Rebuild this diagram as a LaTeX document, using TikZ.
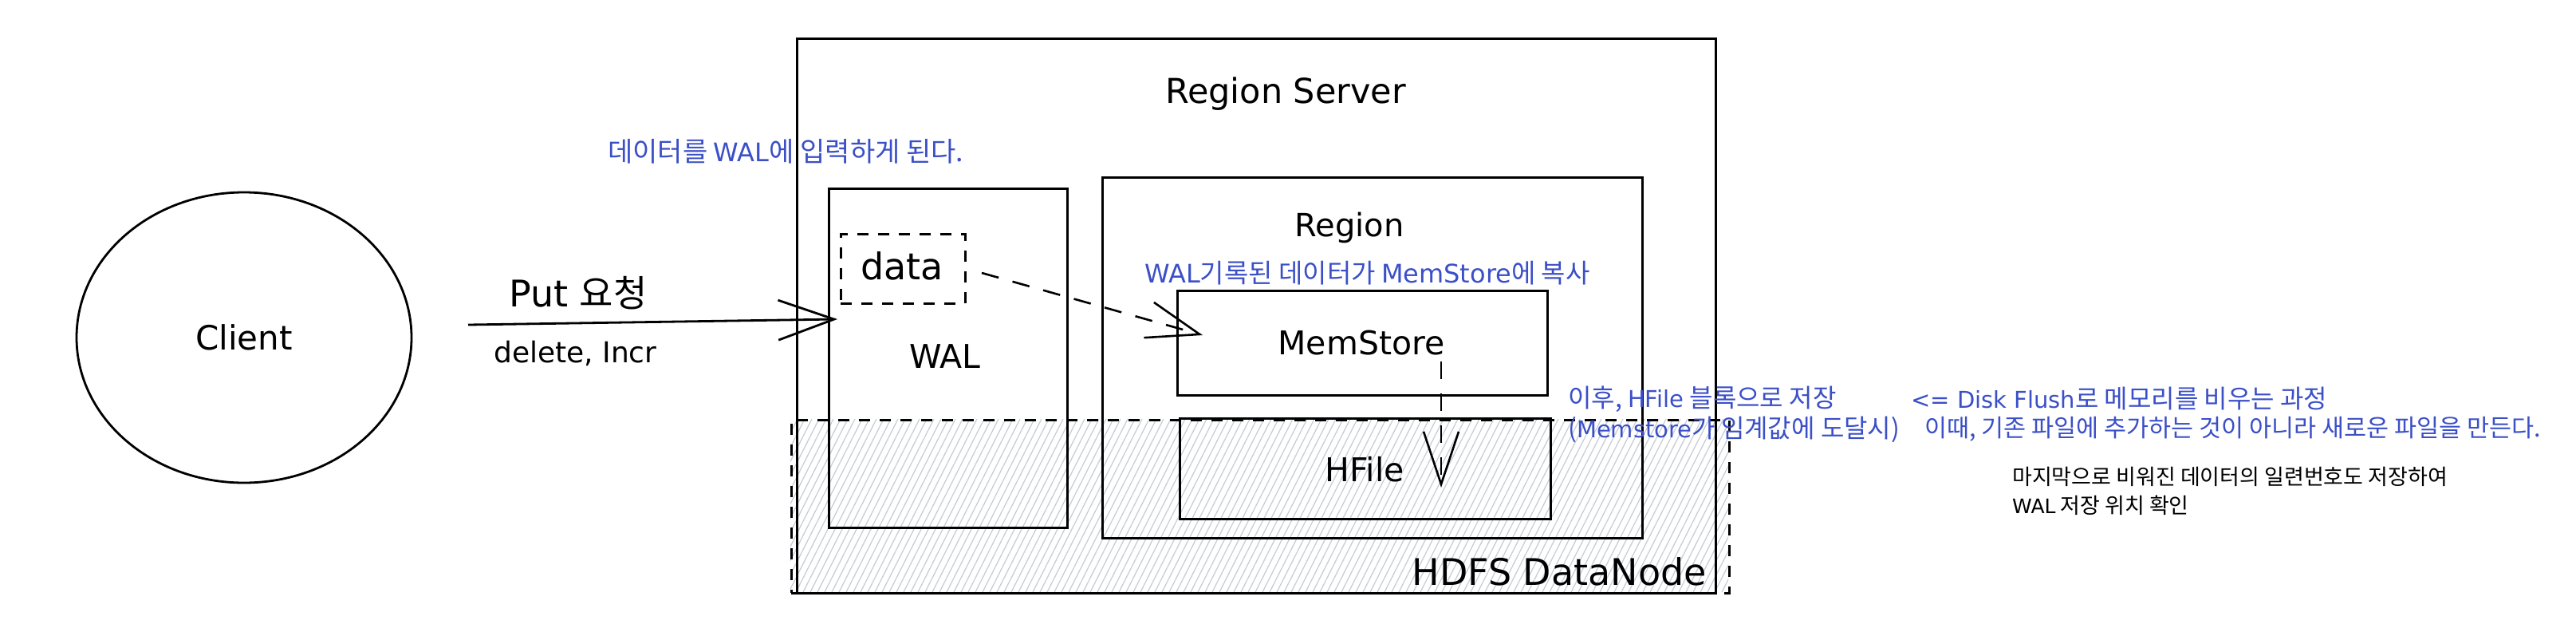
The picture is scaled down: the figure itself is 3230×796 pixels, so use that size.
\documentclass[tikz,border=0pt]{standalone}
\usepackage{fontspec}
\setmainfont{DejaVu Sans}
\newfontfamily\kr{Noto Sans CJK KR}
\newcommand\latn[1]{{\rmfamily\fontsize{29}{29}\selectfont #1}}
\newcommand\latb[1]{{\rmfamily\fontsize{32}{32}\selectfont #1}}
\newcommand\latm[1]{{\rmfamily\fontsize{25}{25}\selectfont #1}}
\usetikzlibrary{arrows.meta,shapes.geometric}
\definecolor{notec}{HTML}{3B4FC7}
\definecolor{hatchc}{HTML}{C9CED6}
\begin{document}
\begin{tikzpicture}[x=1pt,y=-1pt,
  box/.style={draw=black,line width=2.6pt,inner sep=0pt,anchor=north west},
  dbox/.style={box,dash pattern=on 14pt off 12pt},
  lbl/.style={font=\fontsize{#1}{#1}\selectfont,inner sep=0pt},
  note/.style={text=notec,font=\kr\fontsize{32}{32}\selectfont,inner sep=0pt,anchor=west},
  memo/.style={text=black,font=\kr\fontsize{27}{27}\selectfont,inner sep=0pt,anchor=west},
  hatchline/.style={draw=hatchc,line width=1.3pt},
  putarrow/.style={line width=2.8pt,-{Straight Barb[length=70pt,width=50pt]}},
  flowarrow/.style={line width=2.6pt,dash pattern=on 22pt off 18pt,-{Straight Barb[length=66pt,width=46pt]}}
]
\useasboundingbox (0,0) rectangle (3230,796);

% hatched HDFS area
\begin{scope}
  \clip (991,525) rectangle (2167,742);
  \foreach \i in {0,...,150} \draw[hatchline] ({881+\i*9},742) -- ({991+\i*9},525);
\end{scope}
\node[dbox,minimum width=1176pt,minimum height=217pt] (hdfs) at (991,525) {};

% client
\node[draw=black,line width=2.8pt,ellipse,minimum width=420pt,minimum height=364pt,inner sep=0pt] (client) at (306,423) {};
\node[lbl=42] (clientlbl) at (306,423) {Client};

% region server
\node[box,minimum width=1152pt,minimum height=695pt] (rs) at (998,47) {};
\node[lbl=43] (rslbl) at (1612,118) {Region Server};

% WAL
\node[box,minimum width=299pt,minimum height=425pt] (wal) at (1038,235) {};
\node[lbl=41] (wallbl) at (1185,447) {WAL};
\node[dbox,minimum width=156pt,minimum height=87pt] (data) at (1053,292) {};
\node[lbl=46] (datalbl) at (1131,333) {data};

% Region
\node[box,minimum width=677pt,minimum height=452pt] (region) at (1381,221) {};
\node[lbl=40] (regionlbl) at (1692,285) {Region};
\node[box,minimum width=464pt,minimum height=131pt] (mem) at (1475,363) {};
\node[lbl=41] (memlbl) at (1707,430) {MemStore};
\node[box,minimum width=465pt,minimum height=126pt] (hfile) at (1478,523) {};
\node[lbl=41] (hfilelbl) at (1711,588) {HFile};

\node[lbl=46,anchor=east] (hdfslbl) at (2140,716) {HDFS DataNode};

% put arrow
\coordinate (putS) at (587,407);
\coordinate (putE) at (1050,400);
\draw[putarrow] (putS) -- (putE);
\node[lbl=46,anchor=west] (putlbl) at (638,367) {Put {\kr 요청}};
\node[lbl=36,anchor=west] (dellbl) at (619,443) {delete, Incr};

% data -> memstore
\coordinate (dataOut) at (1231,342);
\coordinate (memIn) at (1508,420);
\draw[flowarrow] (dataOut) -- (memIn);

% memstore -> hfile
\coordinate (memOut) at (1807,453);
\coordinate (hfIn) at (1807,611);
\draw[line width=2.6pt,dash pattern=on 22pt off 18pt,-{Straight Barb[length=66pt,width=44pt]}] (memOut) -- (hfIn);

% blue notes
\node[note,font=\kr\fontsize{34}{34}\selectfont] (n1) at (762,190) {데이터를 \latb{WAL}에 입력하게 된다.};
\node[note,font=\kr\fontsize{33}{33}\selectfont] (n2) at (1435,342) {\latb{WAL}기록된 데이터가 \latb{MemStore}에 복사};
\node[note] (n3) at (1966,500) {이후, \latn{HFile} 블록으로 저장};
\node[note] (n4) at (1966,538) {(\latn{Memstore}가 임계값에 도달시)};
\node[note] (n5) at (2396,500) {\latn{<= Disk Flush}로 메모리를 비우는 과정};
\node[note,font=\kr\fontsize{30.5}{30.5}\selectfont] (n6) at (2413,538) {이때, 기존 파일에 추가하는 것이 아니라 새로운 파일을 만든다.};

% black memo
\node[memo] (m1) at (2523,597) {마지막으로 비워진 데이터의 일련번호도 저장하여};
\node[memo] (m2) at (2523,633) {\latm{WAL} 저장 위치 확인};
\end{tikzpicture}
\end{document}
